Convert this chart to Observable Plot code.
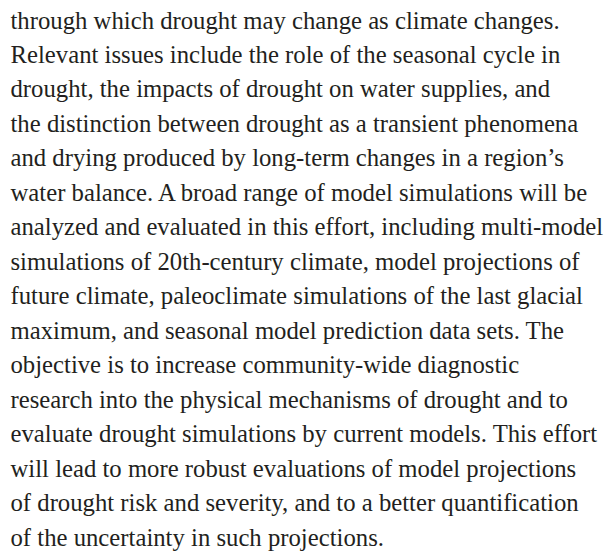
<!DOCTYPE html>
<html>
<head>
<meta charset="utf-8">
<script src="https://cdn.jsdelivr.net/npm/d3@7"></script>
<script src="https://cdn.jsdelivr.net/npm/@observablehq/plot@0.6"></script>
<style>
  html, body { margin: 0; padding: 0; background: #ffffff; }
  #chart { width: 608px; height: 555px; overflow: hidden; }
</style>
</head>
<body>
<div id="chart"></div>
<script>
const lines = [
  "through which drought may change as climate changes.",
  "Relevant issues include the role of the seasonal cycle in",
  "drought, the impacts of drought on water supplies, and",
  "the distinction between drought as a transient phenomena",
  "and drying produced by long-term changes in a region\u2019s",
  "water balance. A broad range of model simulations will be",
  "analyzed and evaluated in this effort, including multi-model",
  "simulations of 20th-century climate, model projections of",
  "future climate, paleoclimate simulations of the last glacial",
  "maximum, and seasonal model prediction data sets. The",
  "objective is to increase community-wide diagnostic",
  "research into the physical mechanisms of drought and to",
  "evaluate drought simulations by current models. This effort",
  "will lead to more robust evaluations of model projections",
  "of drought risk and severity, and to a better quantification",
  "of the uncertainty in such projections."
];
const lineIndex = lines.map((_, i) => i);

const fontFamily = "Liberation Serif";
// fit font size so the longest line spans the measured width
const ctx = document.createElement("canvas").getContext("2d");
ctx.font = `24px "${fontFamily}"`;
const widest = d3.max(lines, s => ctx.measureText(s).width);
const fontSize = 24 * 593 / widest;

const rows = lines.map((t, i) => ({text: t, row: lineIndex[i], col: 0}));

const chart = Plot.plot({
  width: 608,
  height: 555,
  margin: 0,
  style: {background: "#ffffff", overflow: "visible"},
  x: {domain: [0, 1], range: [10, 600], axis: null},
  y: {domain: [0, lines.length - 1], range: [28, 545], axis: null},
  marks: [
    Plot.text(rows, {
      x: "col",
      y: "row",
      text: "text",
      textAnchor: "start",
      lineAnchor: "bottom",
      fontFamily: fontFamily,
      fontSize: fontSize,
      fill: "#231f20"
    })
  ]
});
document.getElementById("chart").appendChild(chart);
</script>
</body>
</html>
